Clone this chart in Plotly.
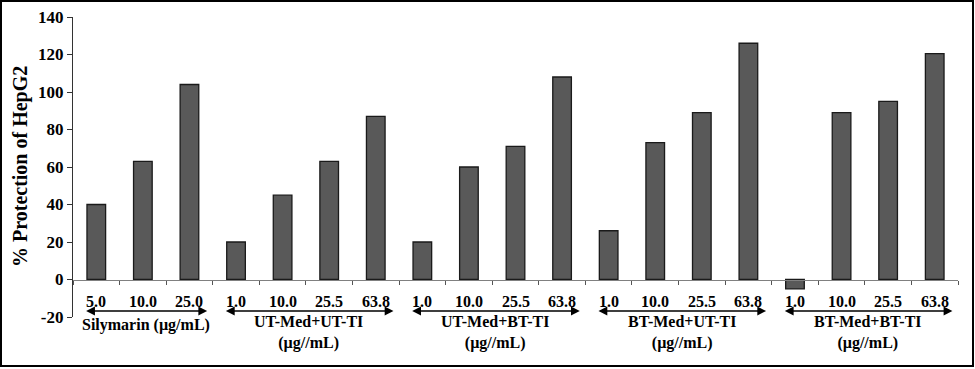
import plotly.graph_objects as go

# ---- data ----
dose_labels = ["5.0", "10.0", "25.0",
               "1.0", "10.0", "25.5", "63.8",
               "1.0", "10.0", "25.5", "63.8",
               "1.0", "10.0", "25.5", "63.8",
               "1.0", "10.0", "25.5", "63.8"]
protection = [40, 63, 104,
              20, 45, 63, 87,
              20, 60, 71, 108,
              26, 73, 89, 126,
              -5, 89, 95, 120.5]
group_names = ["Silymarin (µg/mL)",
               "UT-Med+UT-TI<br>(µg//mL)",
               "UT-Med+BT-TI<br>(µg//mL)",
               "BT-Med+UT-TI<br>(µg//mL)",
               "BT-Med+BT-TI<br>(µg//mL)"]
group_sizes = [3, 4, 4, 4, 4]
y_ticks = [-20, 0, 20, 40, 60, 80, 100, 120, 140]

W, H = 975, 369
L, R, T, B = 73, 17, 17, 52
PW, PH = W - L - R, H - T - B
FONT = "Liberation Serif, Times New Roman, serif"

x_idx = list(range(len(protection)))

fig = go.Figure()
fig.add_trace(go.Bar(
    x=x_idx, y=protection, width=0.4,
    marker=dict(color="#595959", line=dict(color="#1a1a1a", width=1.3)),
    showlegend=False, hoverinfo="y",
))

annotations = []
# dose labels
for i, lab in enumerate(dose_labels):
    annotations.append(dict(x=i, y=-11.8, xref="x", yref="y", text=f"<b>{lab}</b>",
                            showarrow=False, font=dict(family=FONT, size=16, color="black"),
                            xanchor="center", yanchor="middle"))

# group arrows and labels
start = 0
for name, n in zip(group_names, group_sizes):
    x0 = start - 0.25
    x1 = start + n - 1 + 0.38
    annotations.append(dict(x=x1, y=-16.8, ax=x0, ay=-16.8, xref="x", yref="y",
                            axref="x", ayref="y", text="", showarrow=True,
                            arrowhead=2, startarrowhead=2, arrowside="end+start",
                            arrowsize=1.1, startarrowsize=1.1, arrowwidth=1.6, arrowcolor="black"))
    two = "<br>" in name
    yc = (317 - (333 if two else 325)) / PH
    annotations.append(dict(x=(x0 + x1) / 2, y=yc, xref="x", yref="paper",
                            text=f"<b>{name}</b>", showarrow=False,
                            font=dict(family=FONT, size=16, color="black"),
                            xanchor="center", yanchor="middle"))
    start += n

# y-axis title
annotations.append(dict(x=(20 - L) / PW, y=0.5, xref="paper", yref="paper",
                        text="<b>% Protection of HepG2</b>", textangle=-90, showarrow=False,
                        font=dict(family=FONT, size=20, color="black"),
                        xanchor="center", yanchor="middle"))

# outer border
shapes = [dict(type="rect", xref="paper", yref="paper",
               x0=(1 - L) / PW, x1=(973 - L) / PW,
               y0=(T + PH - 366) / PH, y1=(T + PH - 1) / PH,
               line=dict(color="black", width=2), fillcolor="rgba(0,0,0,0)")]

fig.update_layout(
    width=W, height=H,
    margin=dict(l=L, r=R, t=T, b=B, pad=0, autoexpand=False),
    paper_bgcolor="white", plot_bgcolor="white",
    font=dict(family=FONT, color="black"),
    annotations=annotations, shapes=shapes,
    xaxis=dict(range=[-0.5, len(protection) - 0.5],
               tickvals=[i - 0.5 for i in range(len(protection) + 1)],
               showticklabels=False, ticks="outside", ticklen=4, tickwidth=1,
               tickcolor="#555555", showline=True, linecolor="#808080", linewidth=1.2,
               showgrid=False, zeroline=False, automargin=False,
               anchor="free", position=20 / 160),
    yaxis=dict(range=[-20, 140], tickvals=y_ticks,
               ticktext=[f"<b>{v}</b>" for v in y_ticks],
               tickfont=dict(family=FONT, size=17, color="black"),
               ticks="outside", ticklen=5, tickwidth=1, tickcolor="#333333",
               showline=True, linecolor="#333333", linewidth=1.2,
               showgrid=False, zeroline=False, automargin=False),
    bargap=0.6,
)

fig.write_html("out.html", config={"displayModeBar": False},
               post_script="document.body.style.margin='0';document.body.style.overflow='hidden';")
